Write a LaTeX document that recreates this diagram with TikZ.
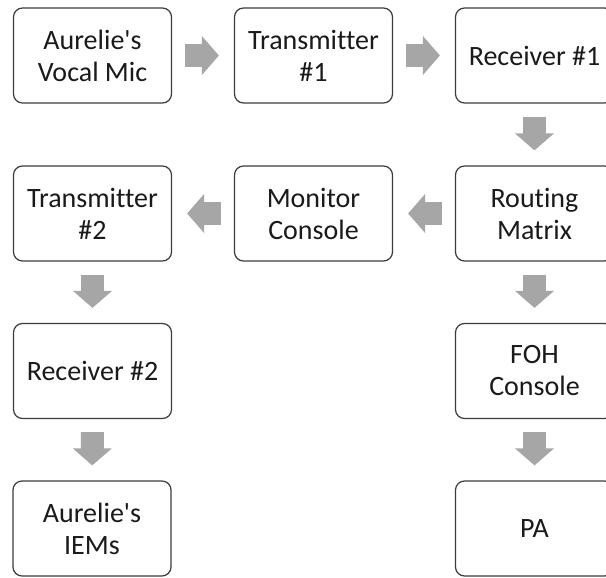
\documentclass[tikz,border=0pt]{standalone}
\usepackage{fontspec}
\newfontfamily\diafont{Carlito}[Ligatures={NoCommon}]
\usetikzlibrary{arrows.meta}
\definecolor{arrowgray}{HTML}{A6A6A6}
\definecolor{boxline}{HTML}{3C3C3C}
\definecolor{txt}{HTML}{1A1A1A}
\tikzset{
  box/.style={draw=boxline, line width=1.2pt, rounded corners=9pt,
    minimum width=158pt, minimum height=95pt, inner sep=0pt, align=center,
    text=txt, font=\diafont\fontsize{28}{32}\selectfont},
  fat/.style={draw=arrowgray, line width=23pt,
    -{Triangle[width=38pt,length=17pt]},
    shorten <=13pt, shorten >=15pt}
}
\begin{document}
\begin{tikzpicture}[x=1pt,y=-1pt]
\clip (0,0) rectangle (606,578);
\fill[white] (0,0) rectangle (606,578);
\node[box] (a1) at (92.5,55.5) {Aurelie's\\Vocal Mic};
\node[box] (a2) at (313.5,55.5) {Transmitter\\\#1};
\node[box] (a3) at (534.5,55.5) {Receiver \#1};
\node[box] (b3) at (534.5,213.5) {Routing\\Matrix};
\node[box] (b2) at (313.5,213.5) {Monitor\\Console};
\node[box] (b1) at (92.5,213.5) {Transmitter\\\#2};
\node[box] (c1) at (92.5,371) {Receiver \#2};
\node[box] (d1) at (92,528.5) {Aurelie's\\IEMs};
\node[box] (c3) at (534.5,371) {FOH\\Console};
\node[box] (d3) at (534.5,528.5) {PA};
\draw[fat] (a1) -- (a2);
\draw[fat] (a2) -- (a3);
\draw[fat] (a3) -- (b3);
\draw[fat] (b3) -- (b2);
\draw[fat] (b2) -- (b1);
\draw[fat] (b1) -- (c1);
\draw[fat] (c1) -- (d1);
\draw[fat] (b3) -- (c3);
\draw[fat] (c3) -- (d3);
\end{tikzpicture}
\end{document}
